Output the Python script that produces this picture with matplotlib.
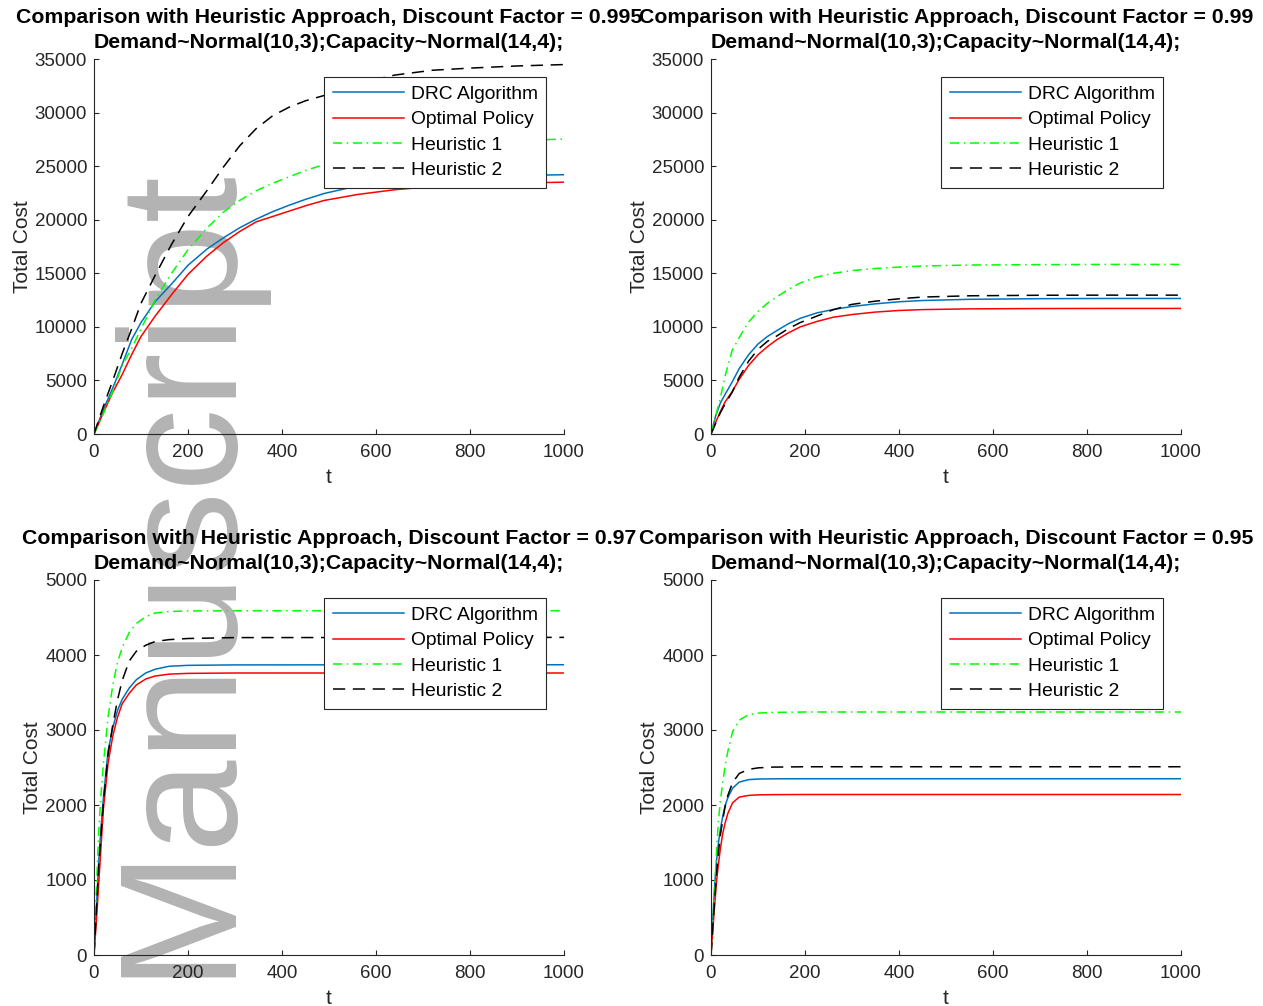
import numpy as np
import matplotlib
matplotlib.use("Agg")
import matplotlib.pyplot as plt

plt.rcParams['font.family'] = ['Liberation Sans', 'DejaVu Sans']

# ---------- Datos ----------
factores = ["0.995", "0.99", "0.97", "0.95"]
etiquetas = ["DRC Algorithm", "Optimal Policy", "Heuristic 1", "Heuristic 2"]

# factor 0.995
t_a = [0, 20, 40, 60, 80, 100, 130, 165, 200, 240, 275, 310, 345, 380, 415,
       450, 490, 560, 640, 720, 800, 900, 1000]
drc_a = [0, 2300, 4300, 6500, 8800, 10400, 12350, 14000, 15750, 17250, 18300,
         19250, 20050, 20750, 21350, 21900, 22450, 23150, 23550, 23800, 23980,
         24120, 24200]
opt_a = [0, 2000, 3900, 5550, 7400, 9100, 11000, 13000, 14900, 16600, 17850,
         18900, 19800, 20300, 20800, 21300, 21800, 22350, 22800, 23100, 23300,
         23430, 23500]
h1_a = [0, 1900, 4000, 6400, 8000, 9800, 12500, 15000, 17200, 19200, 20700,
        21800, 22700, 23400, 24000, 24600, 25150, 25900, 26500, 26900, 27150,
        27380, 27530]
h2_a = [0, 2600, 5000, 7500, 9800, 12200, 14800, 17700, 20300, 22700, 24900,
        26900, 28500, 29700, 30500, 31100, 31600, 32700, 33500, 33950, 34150,
        34350, 34480]

# factor 0.99
t_b = [0, 10, 20, 30, 45, 60, 80, 100, 120, 140, 165, 190, 225, 260, 300, 350,
       400, 450, 550, 700, 850, 1000]
drc_b = [0, 1700, 2900, 3700, 4850, 6100, 7400, 8400, 9100, 9650, 10300, 10800,
         11300, 11620, 11900, 12150, 12340, 12460, 12570, 12630, 12650, 12650]
opt_b = [0, 1100, 2100, 3000, 3950, 5100, 6400, 7400, 8150, 8800, 9450, 10000,
         10500, 10900, 11150, 11380, 11530, 11610, 11680, 11710, 11720, 11720]
h1_b = [0, 1700, 3400, 5400, 7800, 9000, 10450, 11450, 12200, 12800, 13500,
        14100, 14650, 15000, 15250, 15450, 15580, 15680, 15770, 15810, 15830, 15830]
h2_b = [0, 1000, 2000, 2800, 3900, 5300, 6800, 7900, 8650, 9150, 9850, 10400,
        11000, 11600, 12100, 12400, 12620, 12780, 12900, 12950, 12960, 12960]

# factor 0.97
t_c = [0, 5, 10, 15, 20, 30, 40, 50, 60, 75, 90, 110, 130, 160, 200, 300, 1000]
drc_c = [0, 620, 1250, 1700, 2100, 2720, 3030, 3260, 3410, 3560, 3670, 3760,
         3810, 3850, 3862, 3868, 3870]
opt_c = [0, 450, 950, 1450, 1950, 2560, 2920, 3170, 3350, 3490, 3600, 3680,
         3720, 3745, 3755, 3760, 3760]
h1_c = [0, 850, 1650, 2150, 2550, 3180, 3600, 3900, 4100, 4300, 4420, 4510,
        4560, 4580, 4588, 4590, 4590]
h2_c = [0, 580, 1170, 1620, 2030, 2680, 3070, 3400, 3660, 3920, 4050, 4130,
        4180, 4205, 4220, 4232, 4235]

# factor 0.95
t_d = [0, 4, 8, 12, 16, 20, 25, 30, 36, 46, 60, 80, 100, 130, 200, 1000]
drc_d = [0, 500, 950, 1270, 1500, 1680, 1850, 1990, 2100, 2225, 2305, 2338,
         2346, 2349, 2350, 2350]
opt_d = [0, 340, 680, 1000, 1220, 1420, 1620, 1760, 1890, 2030, 2105, 2128,
         2135, 2138, 2140, 2140]
h1_d = [0, 420, 900, 1420, 1800, 2060, 2300, 2520, 2720, 2980, 3130, 3205,
        3225, 3235, 3240, 3240]
h2_d = [0, 380, 760, 1100, 1380, 1600, 1800, 1980, 2130, 2300, 2420, 2475,
        2495, 2505, 2510, 2510]

paneles = [
    (t_a, [drc_a, opt_a, h1_a, h2_a], 35000, 5000),
    (t_b, [drc_b, opt_b, h1_b, h2_b], 35000, 5000),
    (t_c, [drc_c, opt_c, h1_c, h2_c], 5000, 1000),
    (t_d, [drc_d, opt_d, h1_d, h2_d], 5000, 1000),
]

# ---------- Estilo tipo MATLAB ----------
gris = '#262626'
colores = ['#0072BD', '#FF0000', '#00FF00', '#000000']
estilos = [dict(linestyle='-'), dict(linestyle='-'),
           dict(dashes=(6, 3, 1, 3)), dict(dashes=(8, 5))]

posiciones = [
    [94 / 1263, 1 - 434 / 1006, 470 / 1263, 375 / 1006],
    [711 / 1263, 1 - 434 / 1006, 470 / 1263, 375 / 1006],
    [94 / 1263, 1 - 955 / 1006, 470 / 1263, 375 / 1006],
    [711 / 1263, 1 - 955 / 1006, 470 / 1263, 375 / 1006],
]

fig = plt.figure(figsize=(12.63, 10.06), dpi=100)

# marca de agua, detrás de todo
fig.text(223 / 1263, 1 - 977 / 1006, 'Manuscript', rotation=90,
         rotation_mode='anchor', ha='left', va='baseline',
         fontsize=120, color='#b3b3b3', zorder=-1)

for k, (t, series, ymax, ypaso) in enumerate(paneles):
    ax = fig.add_axes(posiciones[k])
    ax.set_facecolor('none')
    for y, c, est, lab in zip(series, colores, estilos, etiquetas):
        ax.plot(t, y, color=c, linewidth=1.1, label=lab, **est)

    ax.set_xlim(0, 1000)
    ax.set_ylim(0, ymax)
    ax.set_xticks(np.arange(0, 1001, 200))
    ax.set_yticks(np.arange(0, ymax + 1, ypaso))
    for lado in ['top', 'right']:
        ax.spines[lado].set_visible(False)
    for lado in ['left', 'bottom']:
        ax.spines[lado].set_color(gris)
        ax.spines[lado].set_linewidth(0.8)
    ax.tick_params(direction='in', length=3.6, width=0.8, colors=gris,
                   labelsize=13.5)
    ax.tick_params(axis='x', pad=7)
    ax.tick_params(axis='y', pad=5)

    ax.set_xlabel('t', fontsize=15, color=gris, labelpad=5)
    ax.set_ylabel('Total Cost', fontsize=15, color=gris, labelpad=2)
    ax.set_title('Comparison with Heuristic Approach, Discount Factor = ' + factores[k]
                 + '\nDemand~Normal(10,3);Capacity~Normal(14,4);',
                 fontsize=15.3, fontweight='bold', linespacing=1.42, pad=8)

    leg = ax.legend(loc='upper left', bbox_to_anchor=(0.489, 0.952),
                    fontsize=13.9, handlelength=3.7, handletextpad=0.35,
                    labelspacing=0.4, borderpad=0.45, borderaxespad=0,
                    fancybox=False, framealpha=1, edgecolor=gris)
    leg.get_frame().set_linewidth(0.8)

fig.savefig('out.png', dpi=100)
